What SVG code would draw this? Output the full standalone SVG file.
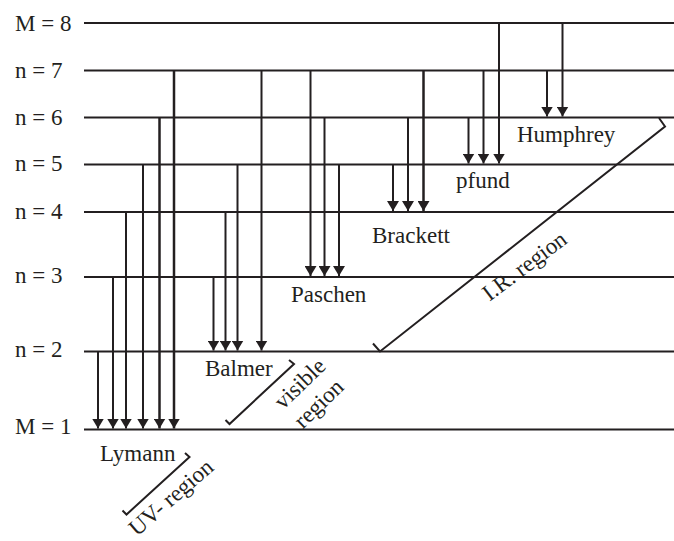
<svg xmlns="http://www.w3.org/2000/svg" width="674" height="541" viewBox="0 0 674 541">
  <style>
    .lvl { stroke: #231f20; stroke-width: 2; fill: none; }
    .arr { stroke: #231f20; stroke-width: 2; fill: none; marker-end: url(#head); }
    .arr.b { stroke-width: 2.5; }
    .brk { stroke: #231f20; stroke-width: 2; fill: none; stroke-linejoin: miter; }
    text { font-family: "Liberation Serif", "Times New Roman", serif; font-size: 23px; fill: #231f20; }
  </style>
  <defs>
    <marker id="head" markerUnits="userSpaceOnUse" viewBox="0 0 10 12" refX="10" refY="6" markerWidth="10" markerHeight="12" orient="auto">
      <path d="M0,0 L10,6 L0,12 z" fill="#231f20"/>
    </marker>
  </defs>
  <rect width="674" height="541" fill="#ffffff"/>

  <!-- energy levels -->
  <g id="level-8">
    <line class="lvl" x1="84" y1="23" x2="674" y2="23"/>
    <text x="15" y="31">M = 8</text>
  </g>
  <g id="level-7">
    <line class="lvl" x1="84" y1="70.5" x2="674" y2="70.5"/>
    <text x="15" y="78">n = 7</text>
  </g>
  <g id="level-6">
    <line class="lvl" x1="84" y1="117.5" x2="674" y2="117.5"/>
    <text x="15" y="125">n = 6</text>
  </g>
  <g id="level-5">
    <line class="lvl" x1="84" y1="164.5" x2="674" y2="164.5"/>
    <text x="15" y="171">n = 5</text>
  </g>
  <g id="level-4">
    <line class="lvl" x1="84" y1="212" x2="674" y2="212"/>
    <text x="15" y="219">n = 4</text>
  </g>
  <g id="level-3">
    <line class="lvl" x1="84" y1="277" x2="674" y2="277"/>
    <text x="15" y="283">n = 3</text>
  </g>
  <g id="level-2">
    <line class="lvl" x1="84" y1="351.5" x2="674" y2="351.5"/>
    <text x="15" y="357">n = 2</text>
  </g>
  <g id="level-1">
    <line class="lvl" x1="84" y1="429.5" x2="674" y2="429.5"/>
    <text x="15" y="434">M = 1</text>
  </g>

  <!-- transitions -->
  <g id="connectors">
    <!-- Lymann -->
    <line class="arr" x1="98" y1="351.5" x2="98" y2="428.5"/>
    <line class="arr" x1="113" y1="277" x2="113" y2="428.5"/>
    <line class="arr" x1="126" y1="212" x2="126" y2="428.5"/>
    <line class="arr" x1="143" y1="164.5" x2="143" y2="428.5"/>
    <line class="arr b" x1="159.5" y1="117.5" x2="159.5" y2="428.5"/>
    <line class="arr b" x1="174" y1="70.5" x2="174" y2="428.5"/>
    <!-- Balmer -->
    <line class="arr" x1="213.5" y1="277" x2="213.5" y2="350.5"/>
    <line class="arr" x1="225.5" y1="212" x2="225.5" y2="350.5"/>
    <line class="arr" x1="237.5" y1="164.5" x2="237.5" y2="350.5"/>
    <line class="arr" x1="261.5" y1="70.5" x2="261.5" y2="350.5"/>
    <!-- Paschen -->
    <line class="arr" x1="310.5" y1="70.5" x2="310.5" y2="276"/>
    <line class="arr" x1="324.5" y1="117.5" x2="324.5" y2="276"/>
    <line class="arr" x1="339" y1="164.5" x2="339" y2="276"/>
    <!-- Brackett -->
    <line class="arr" x1="393" y1="164.5" x2="393" y2="211"/>
    <line class="arr" x1="408" y1="117.5" x2="408" y2="211"/>
    <line class="arr b" x1="423.5" y1="70.5" x2="423.5" y2="211"/>
    <!-- pfund -->
    <line class="arr" x1="468.5" y1="117.5" x2="468.5" y2="163.5"/>
    <line class="arr" x1="483.5" y1="70.5" x2="483.5" y2="163.5"/>
    <line class="arr" x1="499" y1="23" x2="499" y2="163.5"/>
    <!-- Humphrey -->
    <line class="arr" x1="547" y1="70.5" x2="547" y2="116.5"/>
    <line class="arr" x1="562.5" y1="23" x2="562.5" y2="116.5"/>
  </g>

  <!-- series names -->
  <g id="series-lymann"><text x="100" y="461">Lymann</text></g>
  <g id="series-balmer"><text x="205" y="376">Balmer</text></g>
  <g id="series-paschen"><text x="291" y="302">Paschen</text></g>
  <g id="series-brackett"><text x="372" y="243">Brackett</text></g>
  <g id="series-pfund"><text x="456" y="188">pfund</text></g>
  <g id="series-humphrey"><text x="517" y="142">Humphrey</text></g>

  <!-- spectral regions -->
  <g id="region-uv">
    <polyline class="brk" points="185,453 189.5,457 126.5,514.5 122.5,510.5"/>
    <text text-anchor="middle" transform="translate(176,503) rotate(-41)">UV- region</text>
  </g>
  <g id="region-visible">
    <polyline class="brk" points="289,360 294,364 229.5,424 225.5,420"/>
    <text text-anchor="middle" transform="translate(305,389) rotate(-44)">visible</text>
    <text text-anchor="middle" transform="translate(324,409) rotate(-44)">region</text>
  </g>
  <g id="region-ir">
    <polyline class="brk" points="659,118 665,126.5 380,351.5 373,343.5"/>
    <text text-anchor="middle" transform="translate(529,272) rotate(-37)">I.R. region</text>
  </g>
</svg>
